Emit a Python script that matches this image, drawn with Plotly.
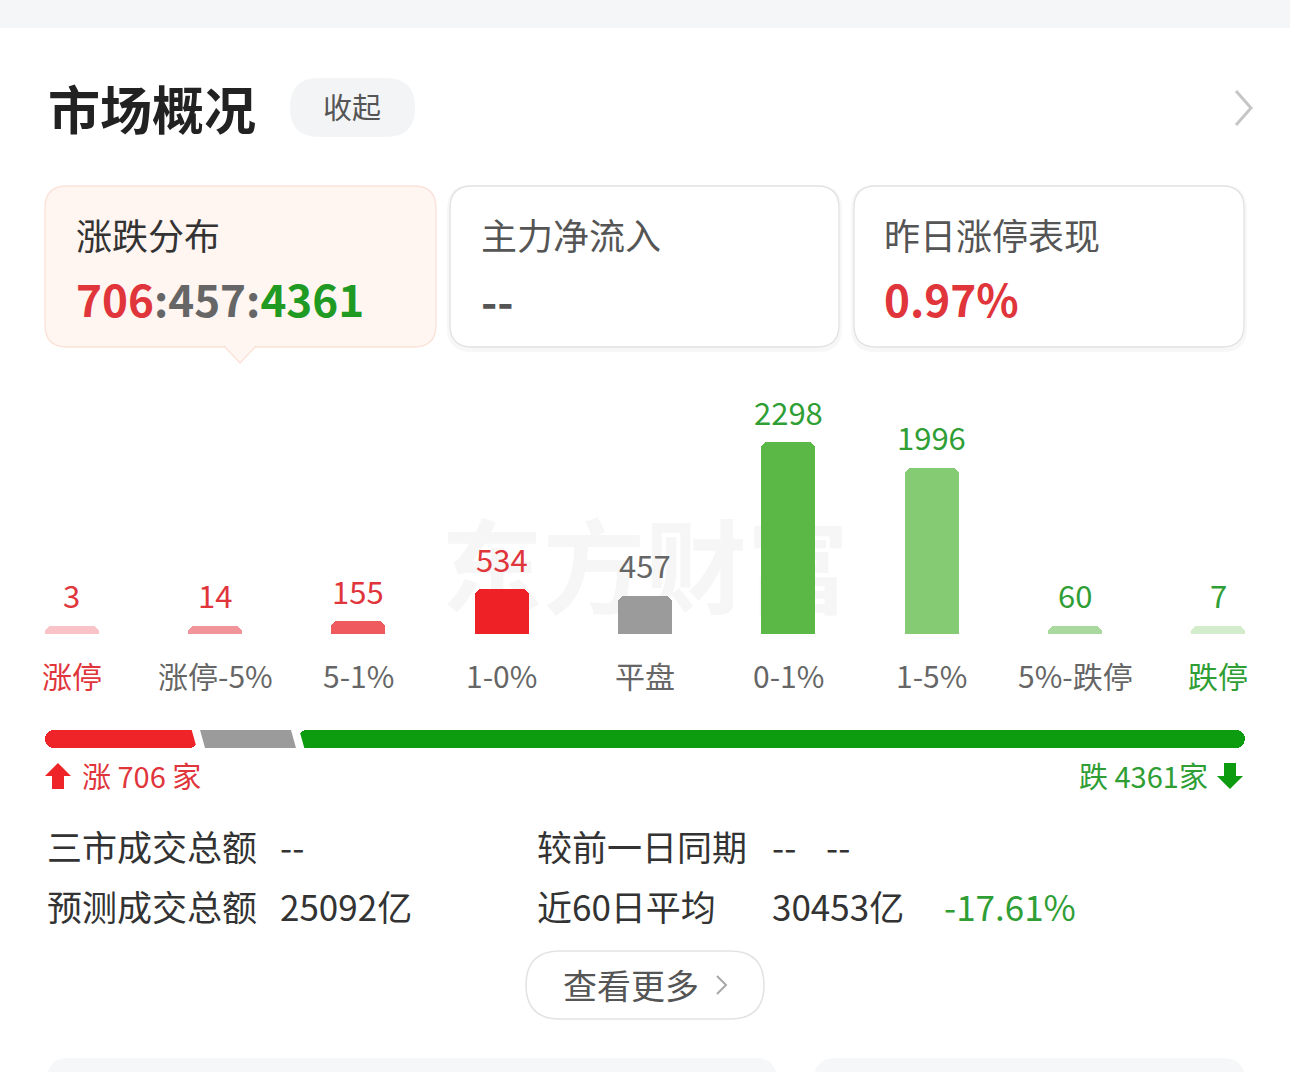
import plotly.graph_objects as go
import numpy as np

W, H = 1290, 1072
FONT = "Noto Sans CJK SC"

# ---------------- data ----------------
categories = ["涨停", "涨停-5%", "5-1%", "1-0%", "平盘", "0-1%", "1-5%", "5%-跌停", "跌停"]
counts = [3, 14, 155, 534, 457, 2298, 1996, 60, 7]
bar_colors = ["#f9c3c7", "#f2959a", "#ef5a5f", "#ee2226", "#9b9b9b",
              "#5bb846", "#84cb73", "#aad9a0", "#d3edcc"]
value_colors = ["#e0353b"] * 4 + ["#666666"] + ["#2f9e35"] * 4
category_colors = ["#e0353b"] + ["#666666"] * 7 + ["#2f9e35"]

up_count = sum(counts[:4])
flat_count = counts[4]
down_count = sum(counts[5:])

limit_up_perf = "0.97%"
main_inflow = "--"
turnover_total = "--"
turnover_forecast = "25092亿"
prev_day_cmp = ["--", "--"]
avg60 = "30453亿"
avg60_change = "-17.61%"

MIN_BAR = 100  # minimum visible bar height (count units), as in the app

RED = "#ee2428"
GRAY = "#9b9b9b"
GREEN = "#0d9c0f"
TXT_RED = "#e0353b"
TXT_GREEN = "#2f9e35"


def X(px):
    return px / W


def Y(py):
    return 1 - py / H


def rrect(x0, y0, x1, y1, r):
    p = [
        ("M", [(x0 + r, y0)]), ("L", [(x1 - r, y0)]), ("Q", [(x1, y0), (x1, y0 + r)]),
        ("L", [(x1, y1 - r)]), ("Q", [(x1, y1), (x1 - r, y1)]), ("L", [(x0 + r, y1)]),
        ("Q", [(x0, y1), (x0, y1 - r)]), ("L", [(x0, y0 + r)]), ("Q", [(x0, y0), (x0 + r, y0)]),
    ]
    s = ""
    for cmd, pts in p:
        s += cmd + " " + " ".join(f"{X(a):.5f},{Y(b):.5f}" for a, b in pts) + " "
    return s + "Z"


def poly(points, close=True):
    s = "M " + " L ".join(f"{X(a):.5f},{Y(b):.5f}" for a, b in points)
    return s + (" Z" if close else "")


fig = go.Figure()

# ---------------- distribution bars ----------------
display_h = np.maximum(np.array(counts), MIN_BAR)
fig.add_trace(go.Bar(
    x=categories, y=display_h, width=0.377,
    marker=dict(color=bar_colors, cornerradius=7, line=dict(width=0)),
    hoverinfo="skip", xaxis="x", yaxis="y",
))

# ---------------- ratio bar ----------------
total = up_count + flat_count + down_count
fig.add_trace(go.Bar(y=[0], x=[-up_count], base=[up_count], orientation="h", width=1,
                     marker=dict(color=RED, cornerradius=9, line=dict(width=0)),
                     hoverinfo="skip", xaxis="x2", yaxis="y2"))
fig.add_trace(go.Bar(y=[0], x=[flat_count], base=[up_count], orientation="h", width=1,
                     marker=dict(color=GRAY, line=dict(width=0)),
                     hoverinfo="skip", xaxis="x2", yaxis="y2"))
fig.add_trace(go.Bar(y=[0], x=[down_count], base=[up_count + flat_count], orientation="h", width=1,
                     marker=dict(color=GREEN, cornerradius=9, line=dict(width=0)),
                     hoverinfo="skip", xaxis="x2", yaxis="y2"))

shapes = []
annotations = []

# top gray band
shapes.append(dict(type="rect", xref="paper", yref="paper", x0=0, x1=1, y0=Y(28), y1=1,
                   fillcolor="#f5f6f8", line=dict(width=0), layer="below"))

# watermark
shapes.append(dict(type="rect", xref="paper", yref="paper", x0=X(435), x1=X(855), y0=Y(632), y1=Y(522),
                   fillcolor="rgba(0,0,0,0)", line=dict(width=0), layer="below",
                   label=dict(text="<b>东方财富</b>", font=dict(family=FONT, size=102, color="#f6f6f6"),
                              textposition="middle center")))

# chip "收起"
shapes.append(dict(type="path", xref="paper", yref="paper", path=rrect(290, 78, 415, 137, 29),
                   fillcolor="#f3f4f6", line=dict(width=0), layer="below"))
# chevron top right
shapes.append(dict(type="path", xref="paper", yref="paper",
                   path=poly([(1236, 91), (1251, 108), (1236, 125)], close=False),
                   line=dict(color="#c6c6c6", width=3)))

# cards
cards = [(45, 436), (450, 839), (854, 1244)]
for i, (cx0, cx1) in enumerate(cards):
    if i > 0:
        shapes.append(dict(type="path", xref="paper", yref="paper",
                           path=rrect(cx0 - 3, 185, cx1 + 3, 352, 24),
                           fillcolor="rgba(0,0,0,0.03)", line=dict(width=0), layer="below"))
    fill = "#fff5f1" if i == 0 else "#ffffff"
    border = "#fae2d9" if i == 0 else "#e2e2e2"
    shapes.append(dict(type="path", xref="paper", yref="paper", path=rrect(cx0, 186, cx1, 347, 22),
                       fillcolor=fill, line=dict(color=border, width=1.3), layer="below"))
# pointer triangle under first card
shapes.append(dict(type="path", xref="paper", yref="paper",
                   path=poly([(224, 346), (240, 363), (256, 346)], close=False),
                   fillcolor="#fff5f1", line=dict(color="#fae2d9", width=1.3), layer="below"))

# ratio bar slanted gaps
for b in [up_count, up_count + flat_count]:
    shapes.append(dict(type="line", xref="x2", yref="y2", xsizemode="pixel", xanchor=b,
                       x0=-5, x1=5, y0=1.0, y1=-1.0, line=dict(color="white", width=8)))

# up / down arrows
shapes.append(dict(type="path", xref="paper", yref="paper",
                   path=poly([(58, 763), (71, 776), (64, 776), (64, 789), (52, 789), (52, 776), (45, 776)]),
                   fillcolor=RED, line=dict(width=0)))
shapes.append(dict(type="path", xref="paper", yref="paper",
                   path=poly([(1224, 763), (1236, 763), (1236, 776), (1243, 776), (1230, 789),
                              (1217, 776), (1224, 776)]),
                   fillcolor=GREEN, line=dict(width=0)))

# "查看更多" pill button
shapes.append(dict(type="path", xref="paper", yref="paper", path=rrect(526, 951, 764, 1019, 34),
                   fillcolor="#ffffff", line=dict(color="#e3e3e3", width=1.5), layer="below"))
shapes.append(dict(type="path", xref="paper", yref="paper",
                   path=poly([(717, 976), (726, 985), (717, 994)], close=False),
                   line=dict(color="#a8a8a8", width=2)))

# bottom partial cards
shapes.append(dict(type="path", xref="paper", yref="paper", path=rrect(47, 1058, 777, 1110, 22),
                   fillcolor="#f6f7f9", line=dict(width=0), layer="below"))
shapes.append(dict(type="path", xref="paper", yref="paper", path=rrect(814, 1058, 1245, 1110, 22),
                   fillcolor="#f6f7f9", line=dict(width=0), layer="below"))


def txt(x, y, text, size, color, anchor="left", bold=False):
    annotations.append(dict(xref="paper", yref="paper", x=X(x), y=Y(y), xanchor=anchor, yanchor="middle",
                            text=(f"<b>{text}</b>" if bold else text), showarrow=False,
                            font=dict(family=FONT, size=size, color=color)))


# header
txt(46, 107, "市场概况", 52, "#222222", bold=True)
txt(352, 106, "收起", 29, "#555555", anchor="center")

# card texts
txt(74, 234, "涨跌分布", 36, "#333333")
txt(74, 298, f"<span style='color:{TXT_RED}'>{up_count}</span>"
             f"<span style='color:#666666'>:{flat_count}:</span>"
             f"<span style='color:#1f9a22'>{down_count}</span>", 44, "#333333", bold=True)
txt(479, 234, "主力净流入", 36, "#555555")
txt(479, 300, main_inflow, 44, "#555555", bold=True)
txt(882, 234, "昨日涨停表现", 36, "#555555")
txt(882, 298, limit_up_perf, 44, TXT_RED, bold=True)

# value labels and category labels (on data axes)
for cat, c, h, vc, cc in zip(categories, counts, display_h, value_colors, category_colors):
    annotations.append(dict(xref="x", yref="y", x=cat, y=float(h), yshift=31, yanchor="middle",
                            xanchor="center", text=str(c), showarrow=False,
                            font=dict(family=FONT, size=31, color=vc)))
    annotations.append(dict(xref="x", yref="y", x=cat, y=0, yshift=-41, yanchor="middle",
                            xanchor="center", text=cat, showarrow=False,
                            font=dict(family=FONT, size=30, color=cc)))

# ratio labels
txt(80, 775, f"涨 {up_count} 家", 29, TXT_RED)
txt(1210, 775, f"跌 {down_count}家", 29, TXT_GREEN, anchor="right")

# stats rows
txt(45, 845, "三市成交总额", 35, "#333333")
txt(278, 845, turnover_total, 35, "#333333")
txt(45, 905, "预测成交总额", 35, "#333333")
txt(278, 905, turnover_forecast, 35, "#333333")
txt(535, 845, "较前一日同期", 35, "#333333")
txt(770, 845, prev_day_cmp[0], 35, "#333333")
txt(824, 845, prev_day_cmp[1], 35, "#333333")
txt(535, 905, "近60日平均", 35, "#333333")
txt(770, 905, avg60, 35, "#333333")
txt(942, 905, avg60_change, 35, TXT_GREEN)

# button text
txt(631, 984, "查看更多", 34, "#555555", anchor="center")

fig.update_layout(
    width=W, height=H, margin=dict(l=0, r=0, t=0, b=0),
    paper_bgcolor="white", plot_bgcolor="rgba(0,0,0,0)",
    showlegend=False, barmode="overlay", bargap=0,
    xaxis=dict(domain=[0, 1], range=[-0.5, 8.5], visible=False, fixedrange=True),
    yaxis=dict(domain=[Y(634), Y(400)], range=[0, 234 / 0.0834], visible=False, fixedrange=True),
    xaxis2=dict(domain=[X(45), X(1245)], range=[0, total], visible=False, anchor="y2"),
    yaxis2=dict(domain=[Y(748), Y(730)], range=[-0.5, 0.5], visible=False, anchor="x2"),
    shapes=shapes, annotations=annotations,
)

fig.write_html("out.html")
